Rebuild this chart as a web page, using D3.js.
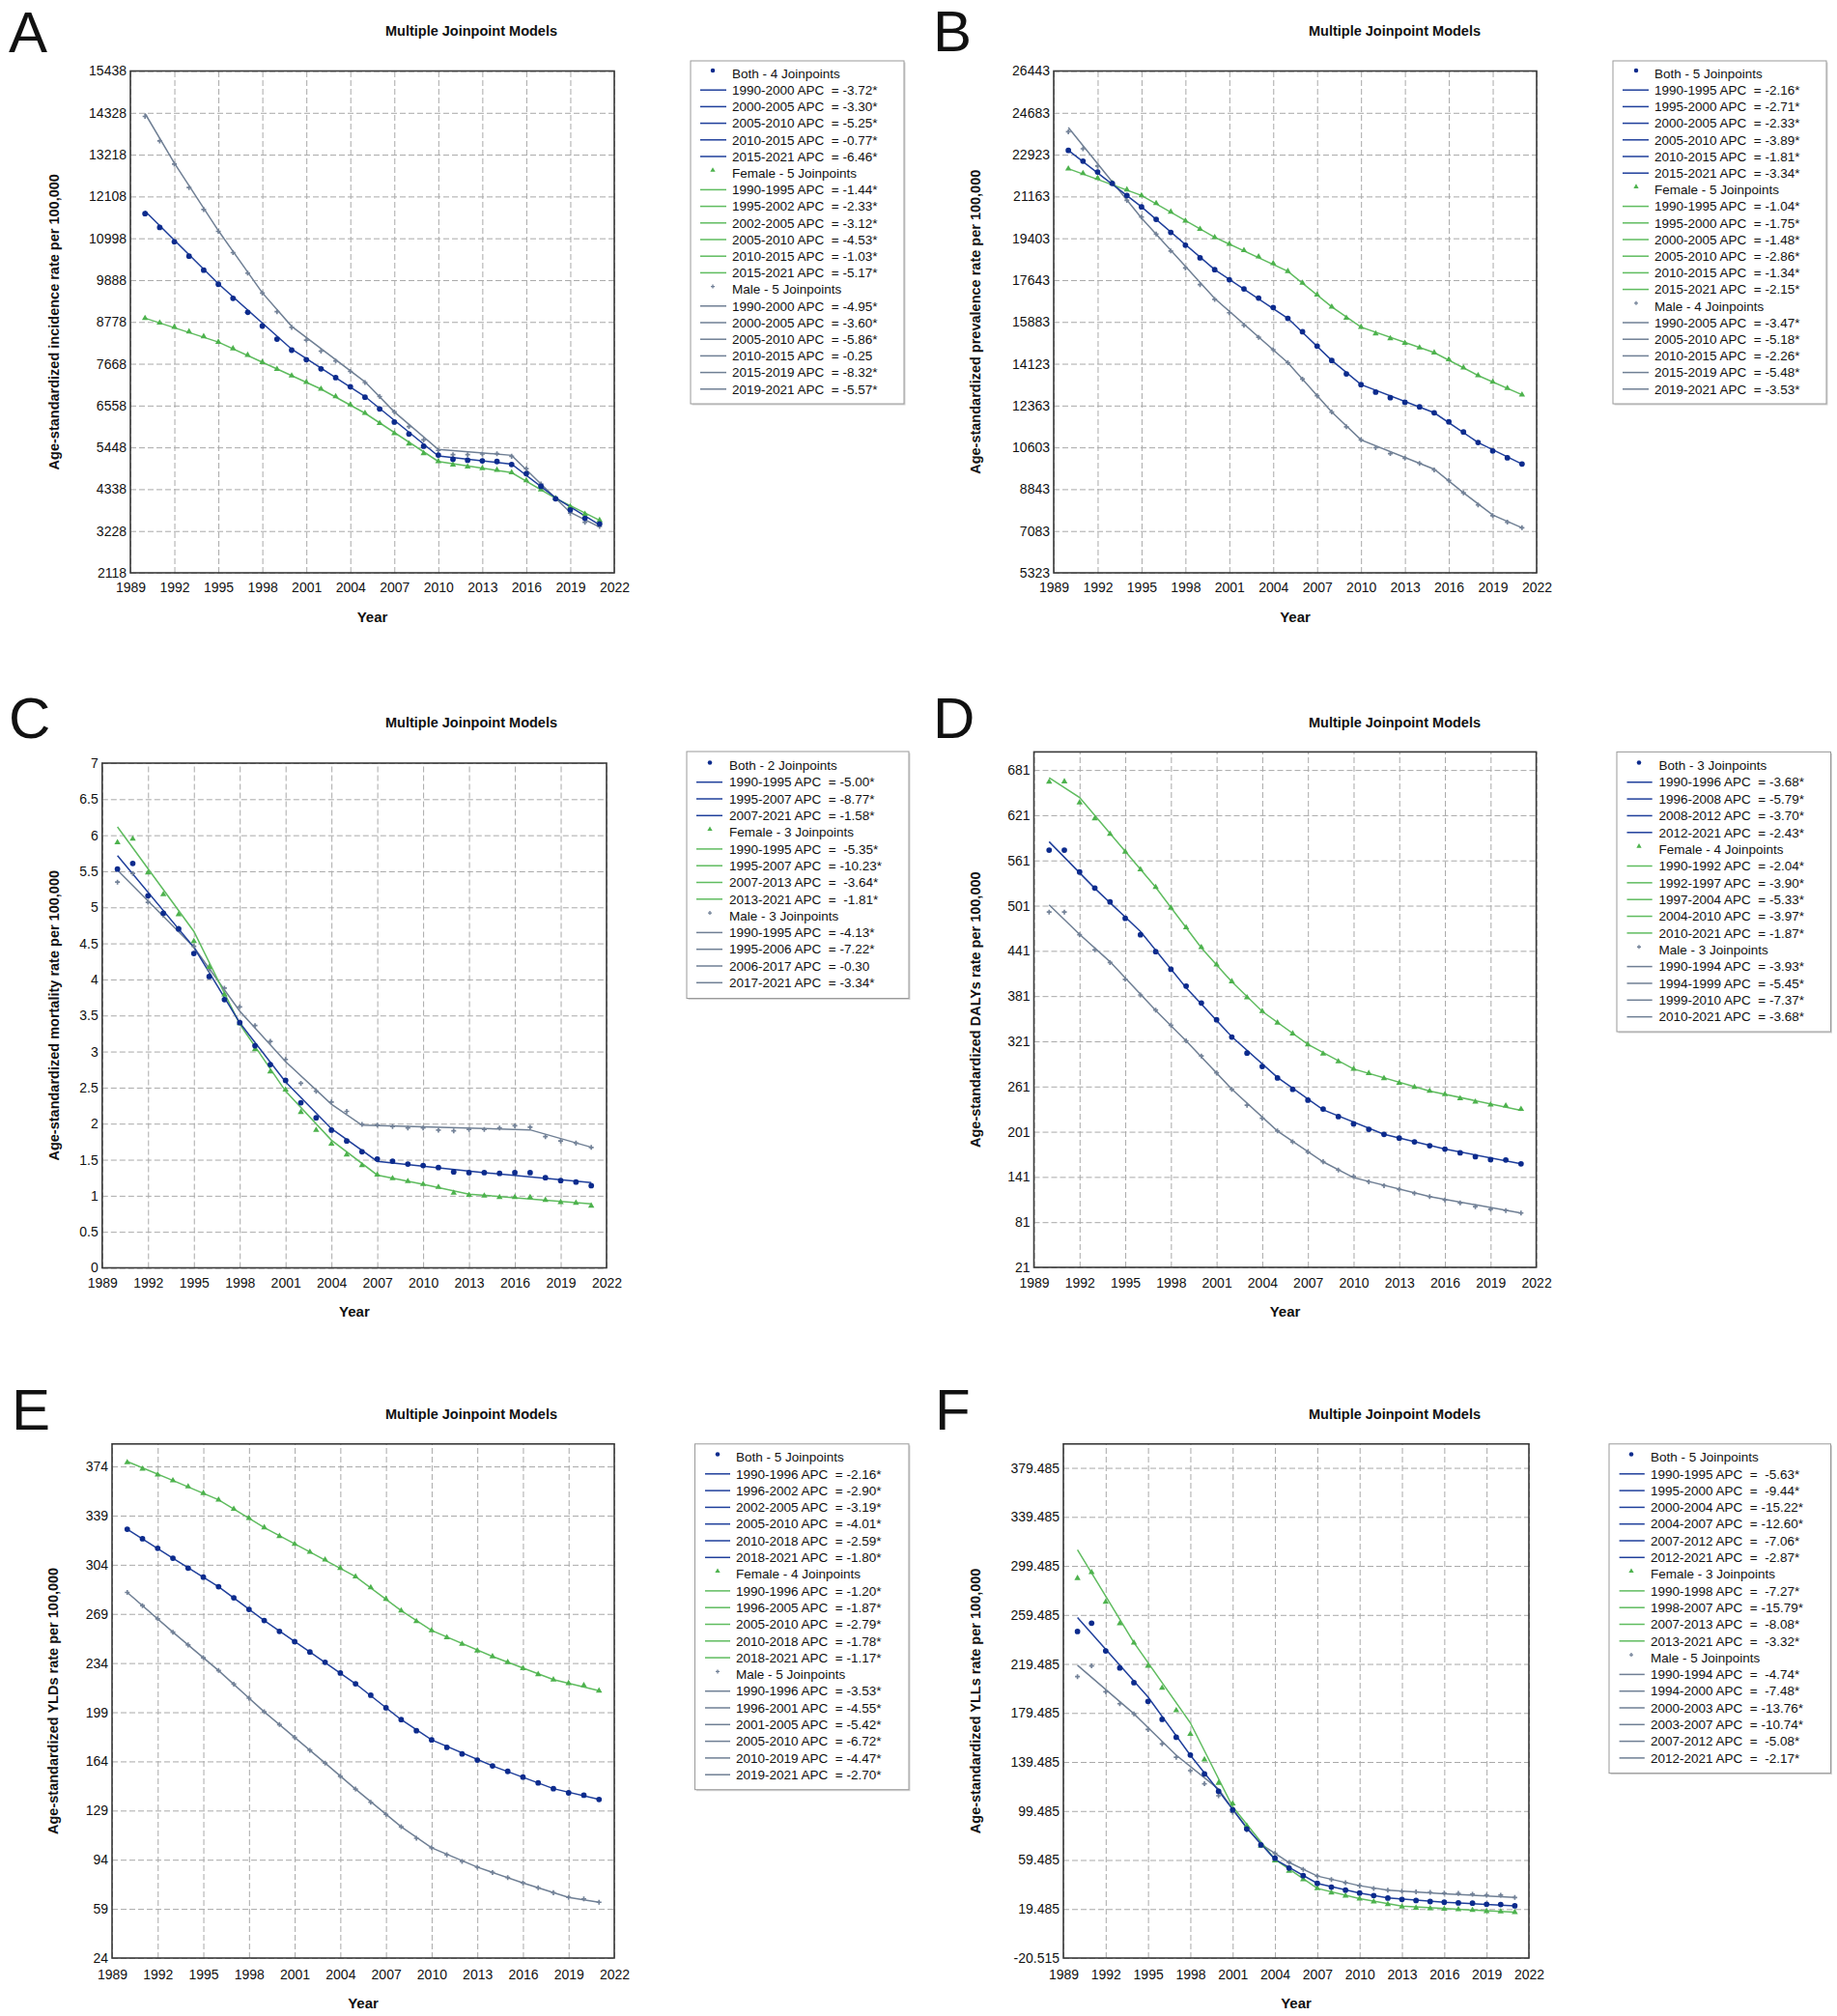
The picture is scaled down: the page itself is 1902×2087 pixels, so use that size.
<!DOCTYPE html>
<html>
<head>
<meta charset="utf-8">
<script src="https://cdn.jsdelivr.net/npm/d3@7"></script>
<style>
body { margin: 0; background: #fff; }
svg text { font-family: "Liberation Sans", Arial, sans-serif; fill: #111; }
</style>
</head>
<body>
<svg id="fig" width="1902" height="2087"></svg>
<script>
// ---- shared axis values ----
var years = [1990, 1991, 1992, 1993, 1994, 1995, 1996, 1997, 1998, 1999, 2000, 2001, 2002, 2003, 2004, 2005,
             2006, 2007, 2008, 2009, 2010, 2011, 2012, 2013, 2014, 2015, 2016, 2017, 2018, 2019, 2020, 2021];
var xTicks = [1989, 1992, 1995, 1998, 2001, 2004, 2007, 2010, 2013, 2016, 2019, 2022];

// ---- A: incidence ----
var incidenceTicks = [2118, 3228, 4338, 5448, 6558, 7668, 8778, 9888, 10998, 12108, 13218, 14328, 15438];
var incidenceBoth = [11650, 11286, 10904, 10523, 10150, 9778, 9405, 9033, 8669, 8322, 8028, 7776, 7534, 7300, 7057, 6780,
                     6468, 6121, 5801, 5480, 5246, 5133, 5107, 5090, 5073, 4995, 4752, 4414, 4085, 3790, 3565, 3418];
var incidenceFemale = [8877, 8755, 8643, 8521, 8391, 8244, 8071, 7898, 7707, 7525, 7352, 7178, 6996, 6797, 6580, 6355,
                       6087, 5818, 5541, 5289, 5073, 4986, 4934, 4891, 4847, 4778, 4570, 4328, 4094, 3877, 3678, 3513];
var incidenceMale = [14232, 13582, 12967, 12343, 11762, 11182, 10618, 10072, 9544, 9050, 8634, 8296, 8002, 7742, 7464, 7170,
                     6797, 6390, 6000, 5645, 5367, 5255, 5255, 5272, 5281, 5211, 4882, 4475, 4085, 3704, 3461, 3348];
var incidenceBothFit = [[1990, 11719], [1995, 9790], [2000, 8054], [2005, 6797], [2010, 5221], [2015, 5003], [2018, 4110], [2021, 3392]];
var incidenceFemaleFit = [[1990, 8877], [1995, 8244], [1998, 7707], [2002, 6996], [2005, 6355], [2010, 5073], [2015, 4778], [2018, 4094], [2021, 3513]];
var incidenceMaleFit = [[1990, 14310], [1992, 12990], [1995, 11200], [1998, 9550], [2000, 8660], [2005, 7187], [2007, 6390],
                        [2010, 5393], [2015, 5237], [2017, 4475], [2019, 3721], [2021, 3331]];
var incidenceLegendBoth = ["Both - 4 Joinpoints", "1990-2000 APC  = -3.72*", "2000-2005 APC  = -3.30*", "2005-2010 APC  = -5.25*",
                           "2010-2015 APC  = -0.77*", "2015-2021 APC  = -6.46*"];
var incidenceLegendFemale = ["Female - 5 Joinpoints", "1990-1995 APC  = -1.44*", "1995-2002 APC  = -2.33*", "2002-2005 APC  = -3.12*",
                             "2005-2010 APC  = -4.53*", "2010-2015 APC  = -1.03*", "2015-2021 APC  = -5.17*"];
var incidenceLegendMale = ["Male - 5 Joinpoints", "1990-2000 APC  = -4.95*", "2000-2005 APC  = -3.60*", "2005-2010 APC  = -5.86*",
                           "2010-2015 APC  = -0.25", "2015-2019 APC  = -8.32*", "2019-2021 APC  = -5.57*"];

// ---- B: prevalence ----
var prevalenceTicks = [5323, 7083, 8843, 10603, 12363, 14123, 15883, 17643, 19403, 21163, 22923, 24683, 26443];
var prevalenceBoth = [23102, 22648, 22194, 21713, 21204, 20723, 20201, 19651, 19114, 18578, 18083, 17657, 17272, 16887, 16488, 16034,
                      15471, 14866, 14261, 13697, 13243, 12927, 12693, 12501, 12308, 12061, 11676, 11249, 10809, 10452, 10163, 9902];
var prevalenceFemale = [22332, 22139, 21933, 21713, 21452, 21204, 20874, 20517, 20132, 19788, 19444, 19156, 18894, 18633, 18344, 18014,
                        17519, 17024, 16516, 16048, 15663, 15388, 15182, 14989, 14797, 14591, 14302, 13958, 13628, 13353, 13092, 12817];
var prevalenceMale = [23886, 23171, 22442, 21713, 20998, 20297, 19582, 18867, 18152, 17451, 16832, 16268, 15746, 15237, 14714, 14164,
                      13477, 12776, 12088, 11469, 10919, 10589, 10342, 10149, 9929, 9654, 9214, 8692, 8183, 7729, 7454, 7221];
var prevalenceBothFit = [[1990, 23102], [1995, 20723], [2000, 18083], [2005, 16034], [2008, 14261], [2010, 13243], [2015, 12061], [2018, 10809], [2021, 9902]];
var prevalenceFemaleFit = [[1990, 22332], [1995, 21204], [2000, 19444], [2005, 18014], [2008, 16516], [2010, 15663], [2015, 14591], [2018, 13628], [2021, 12817]];
var prevalenceMaleFit = [[1990, 24064], [1995, 20250], [2000, 16870], [2005, 14164], [2008, 12088], [2010, 10919], [2015, 9682],
                         [2017, 8692], [2019, 7757], [2021, 7221]];
var prevalenceLegendBoth = ["Both - 5 Joinpoints", "1990-1995 APC  = -2.16*", "1995-2000 APC  = -2.71*", "2000-2005 APC  = -2.33*",
                            "2005-2010 APC  = -3.89*", "2010-2015 APC  = -1.81*", "2015-2021 APC  = -3.34*"];
var prevalenceLegendFemale = ["Female - 5 Joinpoints", "1990-1995 APC  = -1.04*", "1995-2000 APC  = -1.75*", "2000-2005 APC  = -1.48*",
                              "2005-2010 APC  = -2.86*", "2010-2015 APC  = -1.34*", "2015-2021 APC  = -2.15*"];
var prevalenceLegendMale = ["Male - 4 Joinpoints", "1990-2005 APC  = -3.47*", "2005-2010 APC  = -5.18*", "2010-2015 APC  = -2.26*",
                            "2015-2019 APC  = -5.48*", "2019-2021 APC  = -3.53*"];

// ---- C: mortality ----
var mortalityTicks = [0, 0.5, 1, 1.5, 2, 2.5, 3, 3.5, 4, 4.5, 5, 5.5, 6, 6.5, 7];
var mortalityBoth = [5.53, 5.61, 5.16, 4.92, 4.70, 4.36, 4.04, 3.72, 3.40, 3.08, 2.82, 2.60, 2.29, 2.08, 1.91, 1.76,
                     1.61, 1.51, 1.48, 1.44, 1.42, 1.39, 1.33, 1.32, 1.32, 1.31, 1.32, 1.32, 1.25, 1.21, 1.19, 1.14];
var mortalityFemale = [5.90, 5.95, 5.48, 5.18, 4.90, 4.53, 4.17, 3.79, 3.39, 3.03, 2.72, 2.47, 2.16, 1.91, 1.72, 1.57,
                       1.42, 1.29, 1.24, 1.20, 1.16, 1.12, 1.04, 1.01, 1.00, 0.98, 0.98, 0.98, 0.94, 0.91, 0.90, 0.86];
var mortalityMale = [5.35, 5.47, 5.07, 4.89, 4.71, 4.46, 4.13, 3.88, 3.62, 3.36, 3.14, 2.89, 2.56, 2.45, 2.30, 2.17,
                     1.99, 1.98, 1.96, 1.94, 1.94, 1.91, 1.90, 1.92, 1.92, 1.94, 1.97, 1.95, 1.82, 1.76, 1.73, 1.67];
var mortalityBothFit = [[1990, 5.716], [1995, 4.447], [1998, 3.40], [2001, 2.58], [2004, 1.93], [2007, 1.478], [2014, 1.32], [2021, 1.182]];
var mortalityFemaleFit = [[1990, 6.116], [1995, 4.666], [1998, 3.38], [2001, 2.45], [2004, 1.77], [2007, 1.287], [2010, 1.16], [2013, 1.023], [2021, 0.887]];
var mortalityMaleFit = [[1990, 5.516], [1995, 4.447], [1998, 3.56], [2001, 2.86], [2004, 2.27], [2006, 1.978], [2017, 1.914], [2021, 1.673]];
var mortalityLegendBoth = ["Both - 2 Joinpoints", "1990-1995 APC  = -5.00*", "1995-2007 APC  = -8.77*", "2007-2021 APC  = -1.58*"];
var mortalityLegendFemale = ["Female - 3 Joinpoints", "1990-1995 APC  =  -5.35*", "1995-2007 APC  = -10.23*", "2007-2013 APC  =  -3.64*",
                             "2013-2021 APC  =  -1.81*"];
var mortalityLegendMale = ["Male - 3 Joinpoints", "1990-1995 APC  = -4.13*", "1995-2006 APC  = -7.22*", "2006-2017 APC  = -0.30",
                           "2017-2021 APC  = -3.34*"];

// ---- D: DALYs ----
var dalysTicks = [21, 81, 141, 201, 261, 321, 381, 441, 501, 561, 621, 681];
var dalysBoth = [574.7, 574.7, 545.6, 524.4, 506.0, 484.2, 462.4, 440.0, 416.6, 394.2, 371.9, 349.5, 326.6, 305.4, 287.5, 272.4,
                 257.3, 242.8, 231.1, 221.0, 211.5, 204.3, 197.5, 192.5, 187.5, 182.5, 178.0, 173.0, 167.9, 164.0, 163.5, 158.4];
var dalysFemale = [665.2, 665.7, 637.8, 616.6, 595.9, 572.4, 549.0, 525.5, 498.1, 471.9, 445.6, 422.7, 400.4, 379.1, 360.7, 345.6,
                   331.1, 316.6, 304.3, 294.2, 284.2, 278.6, 271.9, 265.7, 260.1, 255.1, 250.6, 245.0, 240.6, 236.7, 235.5, 231.1];
var dalysMale = [492.5, 492.5, 462.4, 442.3, 425.5, 403.2, 382.5, 362.4, 342.3, 321.6, 301.5, 279.1, 257.3, 236.1, 218.8, 202.0,
                 187.5, 174.1, 161.2, 150.1, 141.7, 134.4, 129.4, 124.4, 119.3, 114.9, 110.4, 106.5, 101.5, 98.1, 96.4, 93.1];
var dalysBothFit = [[1990, 585.8], [1993, 524], [1996, 466.8], [1999, 392], [2002, 327], [2005, 273], [2008, 230], [2012, 197.5], [2016, 178], [2021, 158.4]];
var dalysFemaleFit = [[1990, 670.8], [1992, 644.5], [1994, 597], [1997, 525.5], [2000, 445], [2002, 400], [2004, 360.7], [2007, 317],
                      [2010, 284.2], [2015, 255], [2021, 229.4]];
var dalysMaleFit = [[1990, 502], [1992, 463], [1994, 426.6], [1997, 362], [1999, 321.6], [2002, 257.5], [2005, 202], [2008, 161],
                    [2010, 140], [2015, 114.9], [2021, 93.1]];
var dalysLegendBoth = ["Both - 3 Joinpoints", "1990-1996 APC  = -3.68*", "1996-2008 APC  = -5.79*", "2008-2012 APC  = -3.70*",
                       "2012-2021 APC  = -2.43*"];
var dalysLegendFemale = ["Female - 4 Joinpoints", "1990-1992 APC  = -2.04*", "1992-1997 APC  = -3.90*", "1997-2004 APC  = -5.33*",
                         "2004-2010 APC  = -3.97*", "2010-2021 APC  = -1.87*"];
var dalysLegendMale = ["Male - 3 Joinpoints", "1990-1994 APC  = -3.93*", "1994-1999 APC  = -5.45*", "1999-2010 APC  = -7.37*",
                       "2010-2021 APC  = -3.68*"];

// ---- E: YLDs ----
var yldsTicks = [24, 59, 94, 129, 164, 199, 234, 269, 304, 339, 374];
var yldsBoth = [329.3, 322.5, 315.7, 308.7, 301.6, 295.2, 288.4, 280.5, 272.2, 264.3, 256.6, 249.3, 241.9, 234.6, 226.9, 219.3,
                211.1, 202.2, 193.7, 185.8, 179.3, 174.0, 169.3, 164.9, 160.8, 156.9, 152.8, 148.7, 144.6, 141.6, 139.9, 136.9];
var yldsFemale = [376.9, 372.2, 368.1, 364.0, 359.6, 354.9, 350.2, 343.7, 337.2, 330.5, 324.3, 318.7, 313.1, 307.5, 301.6, 295.5,
                  287.8, 279.6, 271.3, 263.7, 257.2, 252.2, 247.5, 242.8, 238.7, 234.6, 230.2, 226.0, 222.2, 219.6, 218.1, 214.3];
var yldsMale = [284.3, 274.9, 265.5, 256.0, 246.9, 237.8, 228.7, 219.0, 209.0, 199.3, 190.2, 181.1, 171.9, 162.8, 153.4, 144.3,
                134.9, 126.3, 117.5, 109.3, 102.5, 97.5, 92.8, 88.7, 84.9, 81.3, 77.5, 74.0, 70.5, 67.2, 66.1, 63.7];
var yldsBothFit = [[1990, 329.3], [1993, 308.7], [1996, 288.4], [1999, 264.3], [2002, 241.9], [2005, 219.3], [2008, 193.7], [2010, 179.3],
                   [2014, 160.8], [2018, 144.6], [2021, 136.9]];
var yldsFemaleFit = [[1990, 377.5], [1993, 364], [1996, 350.2], [1999, 330.5], [2002, 313.1], [2005, 295.5], [2008, 271.3], [2010, 257.2],
                     [2014, 238.7], [2018, 222.2], [2021, 214.3]];
var yldsMaleFit = [[1990, 284.3], [1993, 256], [1996, 228.7], [1999, 199.3], [2001, 181.1], [2003, 162.8], [2005, 144.3], [2008, 117.5],
                   [2010, 102.5], [2013, 88.7], [2016, 77.5], [2019, 67.2], [2021, 63.7]];
var yldsLegendBoth = ["Both - 5 Joinpoints", "1990-1996 APC  = -2.16*", "1996-2002 APC  = -2.90*", "2002-2005 APC  = -3.19*",
                      "2005-2010 APC  = -4.01*", "2010-2018 APC  = -2.59*", "2018-2021 APC  = -1.80*"];
var yldsLegendFemale = ["Female - 4 Joinpoints", "1990-1996 APC  = -1.20*", "1996-2005 APC  = -1.87*", "2005-2010 APC  = -2.79*",
                        "2010-2018 APC  = -1.78*", "2018-2021 APC  = -1.17*"];
var yldsLegendMale = ["Male - 5 Joinpoints", "1990-1996 APC  = -3.53*", "1996-2001 APC  = -4.55*", "2001-2005 APC  = -5.42*",
                      "2005-2010 APC  = -6.72*", "2010-2019 APC  = -4.47*", "2019-2021 APC  = -2.70*"];

// ---- F: YLLs ----
var yllsTicks = [-20.515, 19.485, 59.485, 99.485, 139.485, 179.485, 219.485, 259.485, 299.485, 339.485, 379.485];
var yllsBoth = [246.0, 252.8, 230.1, 216.2, 204.2, 188.9, 174.2, 159.7, 145.2, 129.7, 115.5, 100.4, 84.9, 71.8, 60.9, 52.9,
                46.7, 40.4, 37.4, 34.9, 32.5, 30.5, 28.4, 27.3, 26.4, 25.6, 25.1, 24.5, 24.3, 23.4, 23.2, 22.1];
var yllsFemale = [289.4, 294.3, 270.0, 252.5, 236.7, 217.8, 199.8, 181.5, 162.2, 141.4, 122.3, 105.4, 87.3, 71.0, 58.9, 50.5,
                  43.6, 36.3, 32.7, 30.3, 27.8, 25.4, 23.4, 21.3, 20.4, 19.9, 19.6, 19.1, 18.5, 17.7, 17.4, 16.9];
var yllsMale = [209.1, 217.9, 196.8, 187.0, 178.8, 166.0, 154.2, 143.3, 132.4, 121.7, 111.9, 98.3, 84.1, 72.3, 64.9, 57.6,
                51.8, 46.4, 43.6, 40.9, 38.5, 36.3, 34.9, 34.1, 33.5, 33.0, 32.5, 32.2, 31.6, 30.8, 30.8, 28.9];
var yllsBothFit = [[1990, 257.4], [1995, 192.5], [1998, 145], [2000, 116], [2002, 85.5], [2004, 60], [2007, 40.4], [2010, 32.5],
                   [2012, 28.6], [2016, 25], [2021, 22.1]];
var yllsFemaleFit = [[1990, 312.6], [1994, 237], [1998, 171.4], [2001, 103], [2004, 60], [2007, 36.3], [2010, 27.9], [2013, 21.8],
                     [2017, 19.2], [2021, 16.9]];
var yllsMaleFit = [[1990, 218.4], [1994, 178.8], [1997, 145], [2000, 117.4], [2001, 101], [2002, 86], [2003, 72.3], [2005, 57.5],
                   [2007, 46.4], [2010, 38.5], [2012, 34.9], [2016, 32], [2021, 28.9]];
var yllsLegendBoth = ["Both - 5 Joinpoints", "1990-1995 APC  =  -5.63*", "1995-2000 APC  =  -9.44*", "2000-2004 APC  = -15.22*",
                      "2004-2007 APC  = -12.60*", "2007-2012 APC  =  -7.06*", "2012-2021 APC  =  -2.87*"];
var yllsLegendFemale = ["Female - 3 Joinpoints", "1990-1998 APC  =  -7.27*", "1998-2007 APC  = -15.79*", "2007-2013 APC  =  -8.08*",
                        "2013-2021 APC  =  -3.32*"];
var yllsLegendMale = ["Male - 5 Joinpoints", "1990-1994 APC  =  -4.74*", "1994-2000 APC  =  -7.48*", "2000-2003 APC  = -13.76*",
                      "2003-2007 APC  = -10.74*", "2007-2012 APC  =  -5.08*", "2012-2021 APC  =  -2.17*"];

// ---- styles ----
var seriesStyle = {
    both:   { line: "#1f3f9b", mark: "#0c2b8d", symbol: d3.symbolCircle,   size: 26, legendSize: 16 },
    female: { line: "#5fbc5f", mark: "#4db24d", symbol: d3.symbolTriangle, size: 18, legendSize: 12 },
    male:   { line: "#6f7f94", mark: "#738298", symbol: d3.symbolCross,    size: 14, legendSize: 9 }
};

// placement of every panel (pixels)
var layouts = {
    A: { x0: 135, x1: 636, y0: 73.5, y1: 593, top: 15438, letter: [9, 54], title: [488, 37], yLab: 56, tickPad: 10, year: 644,
         lg: { x0: 715, x1: 936, y0: 63, y1: 418, row: 76, step: 17.2, l0: 725, l1: 752, m: 738, t: 758 } },
    B: { x0: 1091, x1: 1591, y0: 73.5, y1: 593, top: 26443, letter: [966, 53], title: [1444, 37], yLab: 1010, tickPad: 10, year: 644,
         lg: { x0: 1670, x1: 1891, y0: 63, y1: 418, row: 76, step: 17.2, l0: 1680, l1: 1707, m: 1694, t: 1713 } },
    C: { x0: 105.8, x1: 628, y0: 790, y1: 1312.5, top: 7, letter: [9, 764], title: [488, 753], yLab: 56, tickPad: 11, year: 1363,
         lg: { x0: 711, x1: 941, y0: 778, y1: 1033.5, row: 792.4, step: 17.3, l0: 721, l1: 748, m: 735, t: 755 } },
    D: { x0: 1070.5, x1: 1590.6, y0: 778.4, y1: 1312, top: 705, letter: [966, 764], title: [1444, 753], yLab: 1010, tickPad: 11, year: 1363,
         lg: { x0: 1674, x1: 1895.5, y0: 778.4, y1: 1068, row: 792.4, step: 17.35, l0: 1684.5, l1: 1710.7, m: 1697, t: 1717.5 } },
    E: { x0: 116, x1: 636, y0: 1494.8, y1: 2027, top: 390, letter: [12, 1480], title: [488, 1468.5], yLab: 55, tickPad: 12, year: 2079,
         lg: { x0: 719.5, x1: 941, y0: 1494.8, y1: 1852.7, row: 1508.5, step: 17.3, l0: 730, l1: 756, m: 743, t: 762 } },
    F: { x0: 1101, x1: 1583, y0: 1494.8, y1: 2027, top: 399, letter: [968, 1480], title: [1444, 1468.5], yLab: 1010, tickPad: 12, year: 2079,
         lg: { x0: 1666, x1: 1895.5, y0: 1494.8, y1: 1835.6, row: 1508.5, step: 17.3, l0: 1676.6, l1: 1702.8, m: 1689, t: 1709 } }
};

var panels = [
    { id: "A", yTitle: "Age-standardized incidence rate per 100,000", ticks: incidenceTicks,
      series: [{ key: "both", values: incidenceBoth, fit: incidenceBothFit, legend: incidenceLegendBoth },
               { key: "female", values: incidenceFemale, fit: incidenceFemaleFit, legend: incidenceLegendFemale },
               { key: "male", values: incidenceMale, fit: incidenceMaleFit, legend: incidenceLegendMale }] },
    { id: "B", yTitle: "Age-standardized prevalence rate per 100,000", ticks: prevalenceTicks,
      series: [{ key: "both", values: prevalenceBoth, fit: prevalenceBothFit, legend: prevalenceLegendBoth },
               { key: "female", values: prevalenceFemale, fit: prevalenceFemaleFit, legend: prevalenceLegendFemale },
               { key: "male", values: prevalenceMale, fit: prevalenceMaleFit, legend: prevalenceLegendMale }] },
    { id: "C", yTitle: "Age-standardized mortality rate per 100,000", ticks: mortalityTicks,
      series: [{ key: "both", values: mortalityBoth, fit: mortalityBothFit, legend: mortalityLegendBoth },
               { key: "female", values: mortalityFemale, fit: mortalityFemaleFit, legend: mortalityLegendFemale },
               { key: "male", values: mortalityMale, fit: mortalityMaleFit, legend: mortalityLegendMale }] },
    { id: "D", yTitle: "Age-standardized DALYs rate per 100,000", ticks: dalysTicks,
      series: [{ key: "both", values: dalysBoth, fit: dalysBothFit, legend: dalysLegendBoth },
               { key: "female", values: dalysFemale, fit: dalysFemaleFit, legend: dalysLegendFemale },
               { key: "male", values: dalysMale, fit: dalysMaleFit, legend: dalysLegendMale }] },
    { id: "E", yTitle: "Age-standardized YLDs rate per 100,000", ticks: yldsTicks,
      series: [{ key: "both", values: yldsBoth, fit: yldsBothFit, legend: yldsLegendBoth },
               { key: "female", values: yldsFemale, fit: yldsFemaleFit, legend: yldsLegendFemale },
               { key: "male", values: yldsMale, fit: yldsMaleFit, legend: yldsLegendMale }] },
    { id: "F", yTitle: "Age-standardized YLLs rate per 100,000", ticks: yllsTicks,
      series: [{ key: "both", values: yllsBoth, fit: yllsBothFit, legend: yllsLegendBoth },
               { key: "female", values: yllsFemale, fit: yllsFemaleFit, legend: yllsLegendFemale },
               { key: "male", values: yllsMale, fit: yllsMaleFit, legend: yllsLegendMale }] }
];

var svg = d3.select("#fig");

panels.forEach(function (p) {
    var L = layouts[p.id];
    var g = svg.append("g").attr("class", "panel-" + p.id);

    var x = d3.scaleLinear().domain([1989, 2022]).range([L.x0, L.x1]);
    var y = d3.scaleLinear().domain([p.ticks[0], L.top]).range([L.y1, L.y0]);

    // panel letter and title
    g.append("text").attr("x", L.letter[0]).attr("y", L.letter[1])
        .style("font-size", "60px").text(p.id);
    g.append("text").attr("x", L.title[0]).attr("y", L.title[1])
        .attr("text-anchor", "middle").style("font-size", "14.5px").style("font-weight", "bold")
        .text("Multiple Joinpoint Models");

    // dashed grid
    var gridY = g.append("g").attr("transform", "translate(" + L.x0 + ",0)")
        .call(d3.axisLeft(y).tickValues(p.ticks).tickSize(-(L.x1 - L.x0)).tickFormat(""));
    var gridX = g.append("g").attr("transform", "translate(0," + L.y1 + ")")
        .call(d3.axisBottom(x).tickValues(xTicks).tickSize(-(L.y1 - L.y0)).tickFormat(""));
    [gridY, gridX].forEach(function (gr) {
        gr.select(".domain").remove();
        gr.selectAll("line").attr("stroke", "#a9a9a9").attr("stroke-width", 1).attr("stroke-dasharray", "6,3");
    });

    // frame
    g.append("rect").attr("x", L.x0).attr("y", L.y0)
        .attr("width", L.x1 - L.x0).attr("height", L.y1 - L.y0)
        .attr("fill", "none").attr("stroke", "#3a3a3a").attr("stroke-width", 1.6);

    // tick labels
    var axY = g.append("g").attr("transform", "translate(" + L.x0 + ",0)")
        .call(d3.axisLeft(y).tickValues(p.ticks).tickSize(0).tickPadding(4).tickFormat(function (d) { return String(d); }));
    var axX = g.append("g").attr("transform", "translate(0," + L.y1 + ")")
        .call(d3.axisBottom(x).tickValues(xTicks).tickSize(0).tickPadding(L.tickPad).tickFormat(d3.format("d")));
    [axY, axX].forEach(function (ax) {
        ax.select(".domain").remove();
        ax.selectAll("text").style("font-size", "14px").style("font-family", "'Liberation Sans', Arial, sans-serif").attr("fill", "#111");
    });

    // axis titles
    g.append("text").attr("x", (L.x0 + L.x1) / 2).attr("y", L.year)
        .attr("text-anchor", "middle").style("font-size", "15px").style("font-weight", "bold").text("Year");
    g.append("text")
        .attr("transform", "translate(" + L.yLab + "," + (L.y0 + L.y1) / 2 + ") rotate(-90)")
        .attr("text-anchor", "middle").attr("dy", "0.35em")
        .style("font-size", "14.5px").style("font-weight", "bold").text(p.yTitle);

    // fitted joinpoint lines and observed points (male, female, both from back to front)
    var line = d3.line().x(function (d) { return x(d[0]); }).y(function (d) { return y(d[1]); });
    var order = p.series.slice().reverse();
    order.forEach(function (s) {
        var st = seriesStyle[s.key];
        g.append("path").datum(s.fit).attr("d", line)
            .attr("fill", "none").attr("stroke", st.line).attr("stroke-width", 1.5);
    });
    order.forEach(function (s) {
        var st = seriesStyle[s.key];
        var pts = years.map(function (yr, i) { return [yr, s.values[i]]; });
        g.selectAll(".pt-" + s.key).data(pts).enter().append("path")
            .attr("class", "pt-" + s.key)
            .attr("transform", function (d) { return "translate(" + x(d[0]) + "," + y(d[1]) + ")"; })
            .attr("d", d3.symbol().type(st.symbol).size(st.size))
            .attr("fill", st.mark);
    });

    // legend box
    var lg = L.lg;
    g.append("rect").attr("x", lg.x0 + 1.5).attr("y", lg.y0 + 1.5)
        .attr("width", lg.x1 - lg.x0).attr("height", lg.y1 - lg.y0).attr("fill", "#d4d4d4");
    g.append("rect").attr("x", lg.x0).attr("y", lg.y0)
        .attr("width", lg.x1 - lg.x0).attr("height", lg.y1 - lg.y0)
        .attr("fill", "#fff").attr("stroke", "#9a9a9a").attr("stroke-width", 1);

    var rows = [];
    p.series.forEach(function (s) {
        s.legend.forEach(function (t, i) { rows.push({ key: s.key, head: i === 0, text: t }); });
    });
    var row = g.selectAll(".lgrow").data(rows).enter().append("g")
        .attr("transform", function (d, i) { return "translate(0," + (lg.row + i * lg.step) + ")"; });
    row.filter(function (d) { return d.head; }).append("path")
        .attr("transform", "translate(" + lg.m + ",-3)")
        .attr("d", function (d) { return d3.symbol().type(seriesStyle[d.key].symbol).size(seriesStyle[d.key].legendSize)(); })
        .attr("fill", function (d) { return seriesStyle[d.key].mark; });
    row.filter(function (d) { return !d.head; }).append("line")
        .attr("x1", lg.l0).attr("x2", lg.l1).attr("y1", 0).attr("y2", 0)
        .attr("stroke", function (d) { return seriesStyle[d.key].line; }).attr("stroke-width", 1.5);
    row.append("text").attr("x", lg.t).attr("dy", "0.35em")
        .attr("xml:space", "preserve").style("white-space", "pre")
        .style("font-size", "13.5px").text(function (d) { return d.text; });
});
</script>
</body>
</html>
